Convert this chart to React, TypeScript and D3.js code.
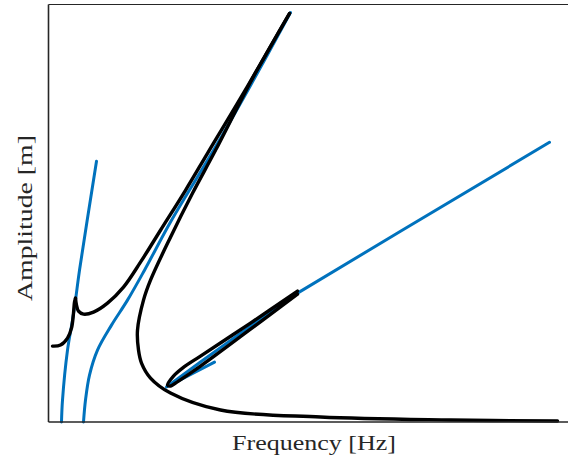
import React from "react";
import * as d3 from "d3";

// Frequency / amplitude in arbitrary units (axes carry no tick labels)
const blueLeftF = [13, 14, 19, 24, 27, 31, 48];
const blueLeftA = [0, 22, 72, 102, 122, 152, 261];

const blueMidF = [35, 37, 41, 49, 63, 79, 96, 123, 165, 202, 242];
const blueMidA = [0, 22, 47, 72, 97, 122, 152, 202, 272, 337, 410];

const blueRightF = [166, 118, 152, 202, 249, 352, 501];
const blueRightA = [60, 35, 60, 96, 129, 191, 280];

const blackLowF = [4, 12, 19, 23, 25, 26, 27];
const blackLowA = [76, 77, 84, 94, 109, 120, 124];

const blackUpF = [27, 28, 30, 35, 45, 59, 75, 92, 112, 137, 159, 199, 241];
const blackUpA = [124, 117, 111, 108, 110, 119, 135, 160, 192, 232, 269, 336, 409];

const blackBackF = [241, 204, 167, 144, 122, 102, 95, 89, 90, 93, 102, 122, 172, 272, 402, 509];
const blackBackA = [409, 344, 272, 229, 185, 142, 122, 92, 72, 59, 44, 29, 12, 5, 2, 1];

const blackLoopF = [249, 202, 152, 134, 125, 119, 122, 130, 152, 202, 249];
const blackLoopA = [131, 99, 66, 54, 46, 37, 36, 41, 56, 93, 128];

const W = 568;
const H = 461;
const left = 48.5;
const right = 567.5;
const top = 4.5;
const bottom = 422;

export default function App() {
  const x = d3.scaleLinear().domain([0, 519]).range([left, right]);
  const y = d3.scaleLinear().domain([0, 418]).range([bottom, top]);

  const zip = (fs: number[], as: number[]) => fs.map((f, i) => [f, as[i]] as [number, number]);
  const smooth = d3
    .line<[number, number]>()
    .x((d) => x(d[0]))
    .y((d) => y(d[1]))
    .curve(d3.curveCatmullRom.alpha(0.5));
  const straight = d3
    .line<[number, number]>()
    .x((d) => x(d[0]))
    .y((d) => y(d[1]));

  const blue = "#0072BD";
  const black = "#000000";

  return (
    <svg
      width={W}
      height={H}
      style={{ position: "absolute", left: 0, top: 0, background: "#fff" }}
    >
      <rect x={0} y={0} width={W} height={H} fill="#ffffff" />
      <g fill="none" strokeLinecap="round" strokeLinejoin="round">
        <path d={smooth(zip(blueLeftF, blueLeftA)) || ""} stroke={blue} strokeWidth={3} />
        <path d={smooth(zip(blueMidF, blueMidA)) || ""} stroke={blue} strokeWidth={3} />
        <path d={straight(zip(blueRightF, blueRightA)) || ""} stroke={blue} strokeWidth={3} />
        <path d={smooth(zip(blackLowF, blackLowA)) || ""} stroke={black} strokeWidth={3.4} />
        <path d={smooth(zip(blackUpF, blackUpA)) || ""} stroke={black} strokeWidth={3.4} />
        <path d={smooth(zip(blackBackF, blackBackA)) || ""} stroke={black} strokeWidth={3.4} />
        <path d={smooth(zip(blackLoopF, blackLoopA)) || ""} stroke={black} strokeWidth={3.4} />
      </g>
      <g fill="none" stroke="#262626">
        <line x1={left} x2={right + 2} y1={top} y2={top} strokeWidth={1.2} />
        <line x1={left} x2={left} y1={top} y2={bottom} strokeWidth={1.6} />
        <line x1={left} x2={right + 2} y1={bottom} y2={bottom} strokeWidth={1.6} />
      </g>
      <text
        x={314}
        y={450}
        textAnchor="middle"
        fontFamily="'Liberation Serif', 'DejaVu Serif', serif"
        fontSize={22}
        fill="#262626"
        textLength={164}
        lengthAdjust="spacingAndGlyphs"
      >
        Frequency [Hz]
      </text>
      <text
        transform="translate(32,218) rotate(-90)"
        textAnchor="middle"
        fontFamily="'Liberation Serif', 'DejaVu Serif', serif"
        fontSize={22}
        fill="#262626"
        textLength={166}
        lengthAdjust="spacingAndGlyphs"
      >
        Amplitude [m]
      </text>
    </svg>
  );
}
